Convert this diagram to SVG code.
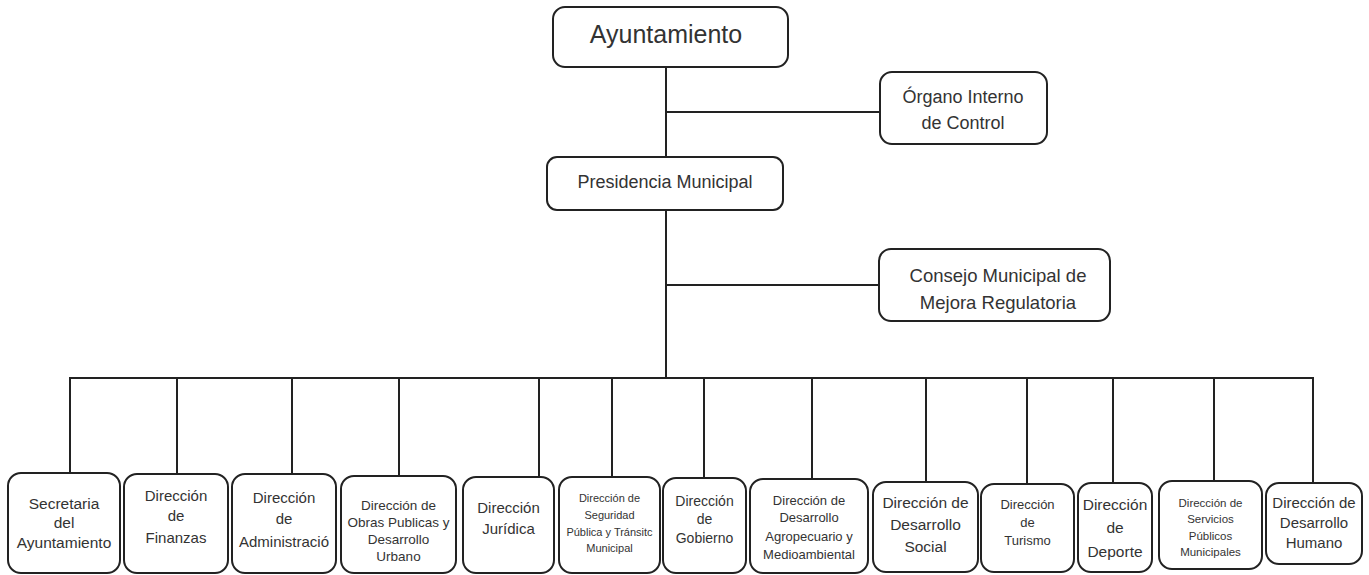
<svg xmlns="http://www.w3.org/2000/svg" width="1369" height="575" viewBox="0 0 1369 575">
<style>
.box{fill:#fff;stroke:#222;stroke-width:2}
.ln{stroke:#222;stroke-width:2;fill:none}
text{font-family:"Liberation Sans",Arial,sans-serif;fill:#333;text-anchor:middle}
</style>
<rect width="1369" height="575" fill="#fff"/>
<g id="connectors" class="ln">
<line x1="666" y1="67" x2="666" y2="157"/>
<line x1="666" y1="112" x2="880" y2="112"/>
<line x1="666" y1="210" x2="666" y2="378"/>
<line x1="666" y1="285" x2="879" y2="285"/>
<line x1="69" y1="378" x2="1314" y2="378"/>
<line x1="70" y1="378" x2="70" y2="473"/>
<line x1="177" y1="378" x2="177" y2="474"/>
<line x1="292" y1="378" x2="292" y2="474"/>
<line x1="399" y1="378" x2="399" y2="476"/>
<line x1="539" y1="378" x2="539" y2="477"/>
<line x1="612" y1="378" x2="612" y2="477"/>
<line x1="704" y1="378" x2="704" y2="478"/>
<line x1="812" y1="378" x2="812" y2="479"/>
<line x1="926" y1="378" x2="926" y2="482"/>
<line x1="1027" y1="378" x2="1027" y2="484"/>
<line x1="1113" y1="378" x2="1113" y2="483"/>
<line x1="1214" y1="378" x2="1214" y2="481"/>
<line x1="1313" y1="378" x2="1313" y2="483"/>
</g>
<g id="ayuntamiento">
<rect class="box" x="553" y="7" width="235" height="60" rx="12"/>
<text x="666" y="43" font-size="25">Ayuntamiento</text>
</g>
<g id="organo">
<rect class="box" x="880" y="72" width="167" height="72" rx="12"/>
<text x="963" y="103" font-size="18">Órgano Interno</text>
<text x="963" y="129" font-size="18">de Control</text>
</g>
<g id="presidencia">
<rect class="box" x="547" y="157" width="236" height="53" rx="10"/>
<text x="665" y="188" font-size="18">Presidencia Municipal</text>
</g>
<g id="consejo">
<rect class="box" x="879" y="249" width="231" height="72" rx="12"/>
<text x="998" y="282" font-size="18.5">Consejo Municipal de</text>
<text x="998" y="309" font-size="18.5">Mejora Regulatoria</text>
</g>
<g id="secretaria">
<rect class="box" x="8" y="473" width="112" height="100" rx="13"/>
<text x="64" y="509" font-size="15.5">Secretaria</text>
<text x="64" y="528" font-size="15.5">del</text>
<text x="64" y="548" font-size="15.5">Ayuntamiento</text>
</g>
<g id="finanzas">
<rect class="box" x="124" y="474" width="104" height="99" rx="13"/>
<text x="176" y="501" font-size="15">Dirección</text>
<text x="176" y="521" font-size="15">de</text>
<text x="176" y="543" font-size="15">Finanzas</text>
</g>
<g id="administracion">
<rect class="box" x="232" y="474" width="104" height="99" rx="13"/>
<text x="284" y="503" font-size="15">Dirección</text>
<text x="284" y="524" font-size="15">de</text>
<text x="284" y="547" font-size="15">Administració</text>
</g>
<g id="obras">
<rect class="box" x="341" y="476" width="115" height="97" rx="13"/>
<text x="398.5" y="510" font-size="13.5">Dirección de</text>
<text x="398.5" y="527" font-size="13.5">Obras Publicas y</text>
<text x="398.5" y="544" font-size="13.5">Desarrollo</text>
<text x="398.5" y="561" font-size="13.5">Urbano</text>
</g>
<g id="juridica">
<rect class="box" x="463" y="477" width="91" height="96" rx="13"/>
<text x="508.5" y="513" font-size="15">Dirección</text>
<text x="508.5" y="534" font-size="15">Jurídica</text>
</g>
<g id="seguridad">
<rect class="box" x="559" y="477" width="101" height="96" rx="13"/>
<text x="609.5" y="502" font-size="11">Dirección de</text>
<text x="609.5" y="519" font-size="11">Seguridad</text>
<text x="609.5" y="536" font-size="11">Pública y Tránsitc</text>
<text x="609.5" y="552" font-size="11">Municipal</text>
</g>
<g id="gobierno">
<rect class="box" x="663" y="478" width="83" height="95" rx="13"/>
<text x="704.5" y="506" font-size="14">Dirección</text>
<text x="704.5" y="524" font-size="14">de</text>
<text x="704.5" y="543" font-size="14">Gobierno</text>
</g>
<g id="agropecuario">
<rect class="box" x="750" y="479" width="118" height="94" rx="13"/>
<text x="809" y="505" font-size="13">Dirección de</text>
<text x="809" y="522" font-size="13">Desarrollo</text>
<text x="809" y="541" font-size="13">Agropecuario y</text>
<text x="809" y="559" font-size="13">Medioambiental</text>
</g>
<g id="social">
<rect class="box" x="873" y="482" width="105" height="90" rx="13"/>
<text x="925.5" y="508" font-size="15.5">Dirección de</text>
<text x="925.5" y="530" font-size="15.5">Desarrollo</text>
<text x="925.5" y="552" font-size="15.5">Social</text>
</g>
<g id="turismo">
<rect class="box" x="981" y="484" width="93" height="88" rx="13"/>
<text x="1027.5" y="509" font-size="13">Dirección</text>
<text x="1027.5" y="527" font-size="13">de</text>
<text x="1027.5" y="545" font-size="13">Turismo</text>
</g>
<g id="deporte">
<rect class="box" x="1078" y="483" width="74" height="89" rx="13"/>
<text x="1115" y="510" font-size="15.5">Dirección</text>
<text x="1115" y="533" font-size="15.5">de</text>
<text x="1115" y="557" font-size="15.5">Deporte</text>
</g>
<g id="servicios">
<rect class="box" x="1159" y="481" width="103" height="88" rx="13"/>
<text x="1210.5" y="507" font-size="11.5">Dirección de</text>
<text x="1210.5" y="523" font-size="11.5">Servicios</text>
<text x="1210.5" y="540" font-size="11.5">Públicos</text>
<text x="1210.5" y="556" font-size="11.5">Municipales</text>
</g>
<g id="humano">
<rect class="box" x="1266" y="483" width="96" height="81" rx="13"/>
<text x="1314" y="508" font-size="15">Dirección de</text>
<text x="1314" y="528" font-size="15">Desarrollo</text>
<text x="1314" y="548" font-size="15">Humano</text>
</g>
</svg>
